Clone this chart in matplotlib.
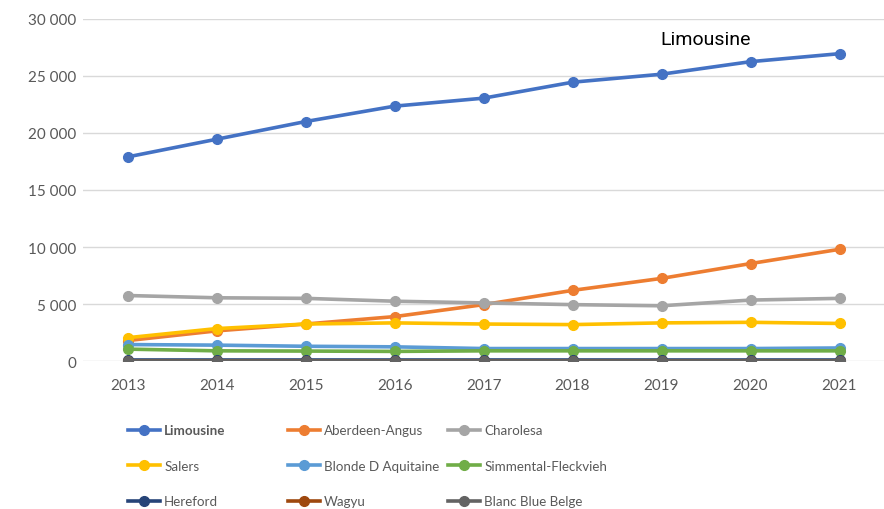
import matplotlib.pyplot as plt
from matplotlib.ticker import FuncFormatter

# registered animals per breed, 2013-2021
years = [2013, 2014, 2015, 2016, 2017, 2018, 2019, 2020, 2021]
limousine = [17900, 19450, 21000, 22350, 23050, 24450, 25150, 26250, 26950]
aberdeen_angus = [1800, 2650, 3250, 3900, 4950, 6200, 7250, 8550, 9800]
charolesa = [5750, 5550, 5500, 5250, 5100, 4950, 4850, 5350, 5500]
salers = [2050, 2850, 3250, 3350, 3250, 3200, 3350, 3400, 3300]
blonde = [1450, 1400, 1300, 1250, 1100, 1100, 1100, 1100, 1150]
simmental = [1050, 900, 880, 850, 900, 900, 900, 900, 900]
hereford = [80, 80, 80, 80, 80, 80, 80, 80, 80]
wagyu = [40, 40, 40, 40, 40, 40, 40, 40, 40]
blanc_blue = [30, 30, 30, 30, 30, 30, 30, 30, 30]

series = [
    ("Limousine", limousine, "#4472C4"),
    ("Aberdeen-Angus", aberdeen_angus, "#ED7D31"),
    ("Charolesa", charolesa, "#A5A5A5"),
    ("Salers", salers, "#FFC000"),
    ("Blonde D Aquitaine", blonde, "#5B9BD5"),
    ("Simmental-Fleckvieh", simmental, "#70AD47"),
    ("Hereford", hereford, "#264478"),
    ("Wagyu", wagyu, "#9E480E"),
    ("Blanc Blue Belge", blanc_blue, "#636363"),
]

plt.rcParams['font.family'] = ['Lato', 'DejaVu Sans']

fig = plt.figure(figsize=(8.84, 5.10), dpi=100)
ax = fig.add_axes([0.094, 0.29, 0.906, 0.671])

handles = []
for name, vals, col in series:
    h, = ax.plot(years, vals, color=col, lw=2.6, marker='o', ms=7,
                 label=name, zorder=3)
    handles.append(h)

ax.set_xlim(2012.5, 2021.5)
ax.set_ylim(0, 30000)
ax.set_yticks(range(0, 30001, 5000))
ax.set_xticks(years)
ax.yaxis.set_major_formatter(FuncFormatter(lambda v, p: f"{int(v):,}".replace(",", " ")))
ax.grid(axis='y', color='#D9D9D9', lw=1)
ax.set_axisbelow(True)
for s in ax.spines.values():
    s.set_visible(False)
ax.tick_params(length=0, labelsize=11, labelcolor='#595959')
ax.tick_params(axis='x', pad=12)
ax.tick_params(axis='y', pad=5)

ax.text(2019.5, 28200, "Limousine", ha='center', va='center', fontsize=14,
        family=['Roboto', 'DejaVu Sans'], color='black')

# three legend columns, each placed at its own x position
col_x = [0.145, 0.326, 0.507]
for c in range(3):
    hs = [handles[c], handles[c + 3], handles[c + 6]]
    leg = fig.legend(handles=hs, loc='upper left', bbox_to_anchor=(col_x[c], 0.166),
                     frameon=False, fontsize=9.6, handlelength=2.4, handletextpad=0.3,
                     labelspacing=1.76, borderaxespad=0, borderpad=0)
    for t in leg.get_texts():
        t.set_color('#595959')
    if c == 0:
        leg.get_texts()[0].set_fontweight('bold')

fig.savefig("out.png", dpi=100)
